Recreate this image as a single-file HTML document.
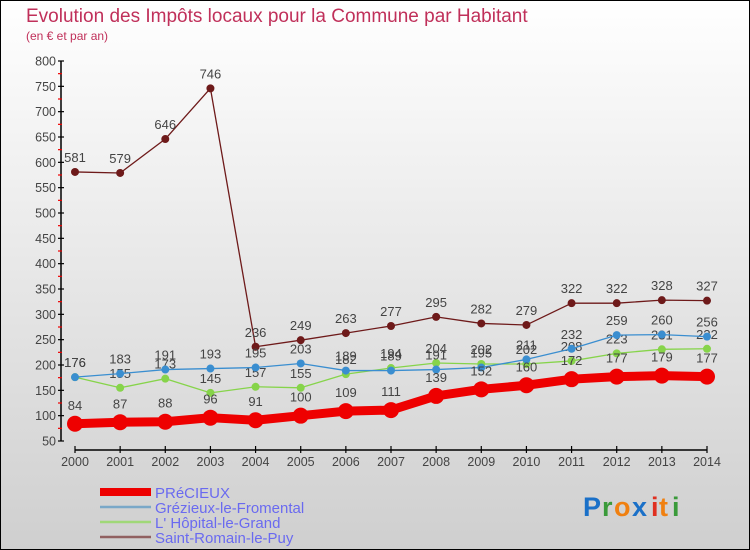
<!DOCTYPE html>
<html><head><meta charset="utf-8"><style>
body{margin:0;}
#wrap{position:relative;width:750px;height:550px;overflow:hidden;}
svg{display:block;font-family:"Liberation Sans",sans-serif;}
</style></head><body>
<div id="wrap">
<svg id="chart" width="750" height="550">
<defs>
<linearGradient id="bg" x1="0" y1="0" x2="0" y2="1">
<stop offset="0" stop-color="#ffffff"/><stop offset="1" stop-color="#cfcfcf"/>
</linearGradient>
</defs>
<rect x="0.5" y="0.5" width="749" height="549" fill="url(#bg)" stroke="#000"/>
<text x="26" y="22" font-size="19" fill="#c0305a">Evolution des Impôts locaux pour la Commune par Habitant</text>
<text x="26" y="40" font-size="12" fill="#c0305a">(en € et par an)</text>
<g id="axes"></g>
<g id="series"></g>
<g id="legend"></g>
<g font-size="27" font-weight="bold">
<text x="583" y="516" fill="#1a70c8">P</text><text x="602" y="516" fill="#3a9a3a">r</text><text x="614" y="516" fill="#f08010">o</text><text x="632" y="516" fill="#1a70c8">x</text><text x="651" y="516" fill="#e03020">i</text><text x="659" y="516" fill="#f08010">t</text><text x="672" y="516" fill="#3a9a3a">i</text>
</g>
</svg>
</div>
<script>
const years=[2000,2001,2002,2003,2004,2005,2006,2007,2008,2009,2010,2011,2012,2013,2014];
const precieux=[84,87,88,96,91,100,109,111,139,152,160,172,177,179,177];
const grezieux=[176,183,191,193,195,203,189,189,191,195,211,232,259,260,256];
const hopital=[176,155,173,145,157,155,182,194,204,202,202,208,223,231,232];
const stRomain=[581,579,646,746,236,249,263,277,295,282,279,322,322,328,327];
const yTicks=[50,100,150,200,250,300,350,400,450,500,550,600,650,700,750,800];
const seriesNames=["PRéCIEUX","Grézieux-le-Fromental","L' Hôpital-le-Grand","Saint-Romain-le-Puy"];

const NS="http://www.w3.org/2000/svg";
function X(i){return 75+(707-75)*i/(years.length-1);}
function Y(v){return 441-(v-50)*(380/750);}
function mk(tag,attrs,parent){const e=document.createElementNS(NS,tag);for(const k in attrs)e.setAttribute(k,attrs[k]);parent.appendChild(e);return e;}

const axes=document.getElementById('axes');
const ya=mk('line',{x1:61,y1:Y(800),x2:61,y2:Y(50),stroke:'#000','stroke-width':1.5},axes);


yTicks.forEach(t=>{
  mk('line',{x1:58,y1:Y(t),x2:64,y2:Y(t),stroke:'#000','stroke-width':1.2},axes);
  if(t<800) mk('line',{x1:58,y1:Y(t+25),x2:62,y2:Y(t+25),stroke:'#e00','stroke-width':1.2},axes);
  const tl=mk('text',{x:56,y:Y(t)+4.5,'font-size':12.5,'text-anchor':'end',fill:'#444'},axes);
  tl.textContent=t;
  
  
});
const xa=mk('line',{x1:X(0),y1:450,x2:X(years.length-1),y2:450,stroke:'#000','stroke-width':1.5},axes);


years.forEach((yr,i)=>{
  mk('line',{x1:X(i),y1:446,x2:X(i),y2:453,stroke:'#000','stroke-width':1.2},axes);
  const tl=mk('text',{x:X(i),y:466,'font-size':12.5,'text-anchor':'middle',fill:'#444'},axes);
  tl.textContent=yr;
  
  
});

const sg=document.getElementById('series');
const defs=[
 {d:stRomain,c:'#6e1a1a',w:1.3,r:4,n:'saint-romain-le-puy'},
 {d:hopital,c:'#86d44a',w:1.3,r:4,n:'l-hopital-le-grand'},
 {d:grezieux,c:'#3a8ed0',w:1.3,r:4,n:'grezieux-le-fromental'},
 {d:precieux,c:'#ee0000',w:9,r:8,n:'precieux'}
];
defs.forEach(s=>{
  const g=mk('g',{},sg);
  
  
  const pts=s.d.map((v,i)=>X(i)+','+Y(v)).join(' ');
  const pl=mk('polyline',{points:pts,fill:'none',stroke:s.c,'stroke-width':s.w,'stroke-linejoin':'round'},g);
  
  
  s.d.forEach((v,i)=>{
    const c=mk('circle',{cx:X(i),cy:Y(v),r:s.r,fill:s.c},g);
    
    
    const t=mk('text',{x:X(i),y:Y(v)-(s.r+6),'font-size':13,'text-anchor':'middle',fill:'#444'},g);
    t.textContent=v;
    
    
  });
});

const lg=document.getElementById('legend');
const lc=[['#ee0000',8],['#7aa8c8',2.5],['#a0d878',2.5],['#906060',2.5]];
seriesNames.forEach((nm,i)=>{
  const y=492+i*15;
  const g=mk('g',{},lg);
  
  
  mk('line',{x1:100,y1:y,x2:151,y2:y,stroke:lc[i][0],'stroke-width':lc[i][1]},g);
  const t=mk('text',{x:155,y:y+6,'font-size':15,fill:'#6a6af0'},g);
  t.textContent=nm;
});
</script>
</body></html>
